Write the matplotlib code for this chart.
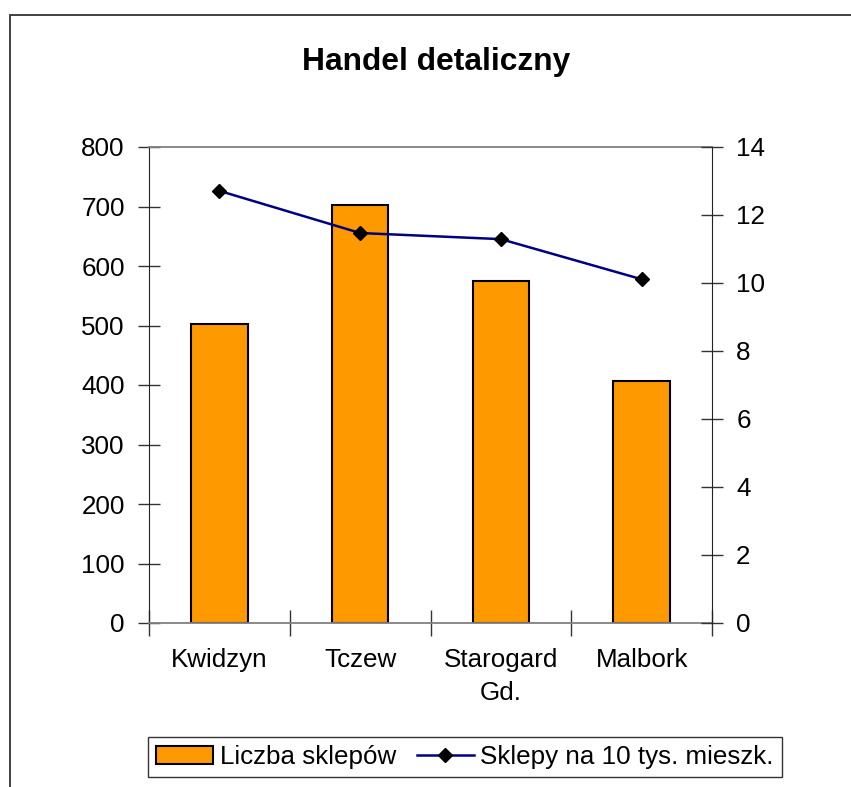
import matplotlib.pyplot as plt
from matplotlib.patches import Rectangle

plt.rcParams['font.family'] = ['Liberation Sans', 'DejaVu Sans']

cities = ["Kwidzyn", "Tczew", "Starogard\nGd.", "Malbork"]
shops = [503, 702, 574, 406]
per_10k = [12.71, 11.47, 11.29, 10.11]
left_ticks = [0, 100, 200, 300, 400, 500, 600, 700, 800]
right_ticks = [0, 2, 4, 6, 8, 10, 12, 14]

W, H = 851, 787
fs = 18.7

fig = plt.figure(figsize=(W / 100, H / 100), dpi=100)
fig.add_artist(Rectangle((9.5 / W, -0.1), 2, (H - 15) / H + 0.1,
                         transform=fig.transFigure, fill=False,
                         edgecolor='#333333', linewidth=1.3))

ax = fig.add_axes([149 / W, (H - 623) / H, (712 - 149) / W, (623 - 147) / H])
x = list(range(len(cities)))
bars = ax.bar(x, shops, width=0.4, color='#FF9900', edgecolor='black',
              linewidth=1.5, label="Liczba sklepów", zorder=2)
ax.set_xlim(-0.5, 3.5)
ax.set_ylim(0, 800)
ax.set_yticks(left_ticks)
ax.set_xticks([-0.5, 0.5, 1.5, 2.5, 3.5])
ax.set_xticklabels([])
ax.set_xticks(x, minor=True)
ax.set_xticklabels(cities, minor=True, fontsize=fs, linespacing=1.45)
ax.tick_params(axis='x', which='major', direction='inout', length=19,
               width=1, color='#333333')
ax.tick_params(axis='x', which='minor', length=0, pad=18)
ax.tick_params(axis='y', direction='inout', length=16, width=1,
               color='#333333', labelsize=fs, pad=9.4)
for s in ['top', 'bottom']:
    ax.spines[s].set_color('#808080')
    ax.spines[s].set_linewidth(1.3)
ax.spines['left'].set_color('#222222')
ax.spines['right'].set_visible(False)

ax2 = ax.twinx()
line, = ax2.plot(x, per_10k, color='#000080', linewidth=1.8, marker='D',
                 markersize=7, markerfacecolor='black',
                 markeredgecolor='black', label="Sklepy na 10 tys. mieszk.")
ax2.set_ylim(0, 14)
ax2.set_yticks(right_ticks)
ax2.tick_params(axis='y', direction='inout', length=16, width=1,
                color='#333333', labelsize=fs, pad=9.4)
for s in ['top', 'bottom', 'left']:
    ax2.spines[s].set_visible(False)
ax2.spines['right'].set_color('#222222')

fig.text(436 / W, 1 - 62 / H, "Handel detaliczny", ha='center', va='center',
         fontsize=22.9, fontweight='bold')

leg = fig.legend([bars, line], ["Liczba sklepów", "Sklepy na 10 tys. mieszk."],
                 loc='center', bbox_to_anchor=(465 / W, 1 - 757 / H),
                 ncol=2, fontsize=fs, frameon=True, fancybox=False,
                 handlelength=2.2, handletextpad=0.25, columnspacing=0.8,
                 borderpad=0.3, borderaxespad=0)
leg.get_frame().set_edgecolor('black')
leg.get_frame().set_linewidth(1.0)

plt.savefig("out.png", dpi=100)
